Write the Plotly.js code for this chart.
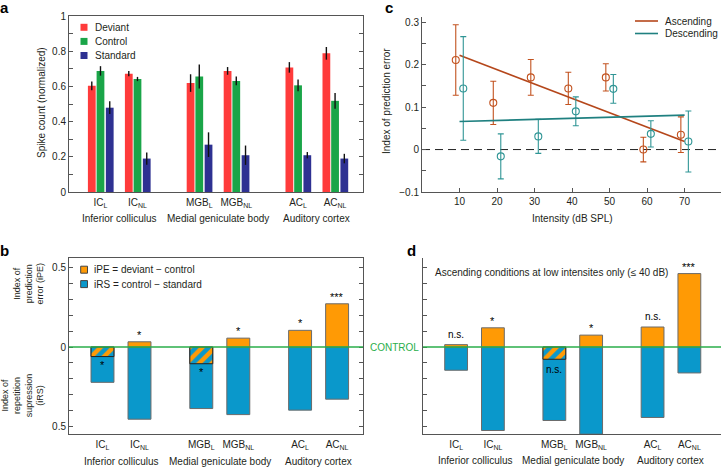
<!DOCTYPE html>
<html><head><meta charset="utf-8">
<script src="https://cdn.plot.ly/plotly-3.0.1.min.js"></script>
<style>html,body{margin:0;padding:0;background:#fff}#chart{width:721px;height:467px}</style>
</head><body><div id="chart"></div>
<script>
// ---------------- data ----------------
const categories = ['IC<sub>L</sub>', 'IC<sub>NL</sub>', 'MGB<sub>L</sub>', 'MGB<sub>NL</sub>', 'AC<sub>L</sub>', 'AC<sub>NL</sub>'];
const regions = ['Inferior colliculus', 'Medial geniculate body', 'Auditory cortex'];
const regionOfCategory = [0, 0, 1, 1, 2, 2];

// panel a
const legendA = ['Deviant', 'Control', 'Standard'];
const deviant = [0.603, 0.672, 0.619, 0.688, 0.708, 0.788];
const deviantErr = [0.025, 0.015, 0.05, 0.022, 0.03, 0.036];
const control = [0.688, 0.642, 0.656, 0.631, 0.606, 0.518];
const controlErr = [0.027, 0.012, 0.068, 0.025, 0.033, 0.045];
const standard = [0.479, 0.19, 0.269, 0.209, 0.209, 0.19];
const standardErr = [0.036, 0.035, 0.07, 0.055, 0.018, 0.027];

// panel b
const legendB = ['iPE = deviant \u2212 control', 'iRS = control \u2212 standard'];
const iPEb = [-0.06, 0.033, -0.105, 0.056, 0.105, 0.272];
const iRSb = [0.222, 0.454, 0.387, 0.425, 0.397, 0.328];
const sigB = ['*', '*', '*', '*', '*', '***'];

// panel c
const legendC = ['Ascending', 'Descending'];
const intensities = [10, 20, 30, 40, 50, 60, 70];
const ascY = [0.211, 0.110, 0.170, 0.144, 0.170, 0.0, 0.035];
const ascErr = [0.083, 0.051, 0.042, 0.038, 0.032, 0.029, 0.042];
const descY = [0.144, -0.016, 0.031, 0.090, 0.143, 0.037, 0.019];
const descErr = [0.122, 0.053, 0.04, 0.034, 0.034, 0.031, 0.072];
const fitX = [10, 70];
const fitAsc = [0.222, 0.019];
const fitDesc = [0.066, 0.081];

// panel d
const panelDNote = 'Ascending conditions at low intensites only (\u2264 40 dB)';
const iPEd = [0.015, 0.121, -0.077, 0.075, 0.126, 0.462];
const iRSd = [0.146, 0.525, 0.462, 0.548, 0.443, 0.163];
const sigD = ['n.s.', '*', 'n.s.', '*', 'n.s.', '***'];

// ---------------- layout helpers ----------------
const W = 721, H = 467;
const px = v => v / W;
const py = v => 1 - v / H;
const FONT = 'Liberation Sans, Arial, Helvetica, sans-serif';
const TXT = '#231f20';
const AX = '#555';
const COL = {
  red: '#ff3b3b', green: '#1aa548', navy: '#2e3192',
  orange: '#ff9a05', blue: '#0a98cb',
  asc: '#c2521f', desc: '#2f9595', ctrl: '#2aae4a'
};
const regionGap = 2.67;
const memberIndex = categories.map((c, i) => i - regionOfCategory.indexOf(regionOfCategory[i]));
const xPos = categories.map((c, i) => regionOfCategory[i] * regionGap + memberIndex[i]);
const regionCenter = regions.map((r, g) => {
  const xs = xPos.filter((v, i) => regionOfCategory[i] === g);
  return (Math.min(...xs) + Math.max(...xs)) / 2;
});
const jitter = 1;

const traces = [];
// ---- panel a bars ----
const seriesA = [[deviant, deviantErr, COL.red, -0.34], [control, controlErr, COL.green, -0.105], [standard, standardErr, COL.navy, 0.145]];
seriesA.forEach(([vals, errs, color, off], k) => {
  traces.push({
    type: 'bar', x: xPos, y: vals, xaxis: 'x', yaxis: 'y', name: legendA[k],
    width: 0.21, offset: off, marker: {color: color},
    error_y: {type: 'data', array: errs, color: '#111', thickness: 1.4, width: 0},
    showlegend: false, hoverinfo: 'skip'
  });
});

// ---- panels b & d ----
function indexTraces(iPE, iRS, xa, ya) {
  traces.push({type: 'bar', x: xPos, y: iRS.map(v => -v), xaxis: xa, yaxis: ya, width: 0.62,
    marker: {color: COL.blue, line: {color: '#6b6b6b', width: 1}}, showlegend: false, name: 'iRS'});
  traces.push({type: 'bar', x: xPos, y: iPE.map(v => v > 0 ? v : null), xaxis: xa, yaxis: ya, width: 0.62,
    marker: {color: COL.orange, line: {color: '#6b6b6b', width: 1}}, showlegend: false, name: 'iPE'});
  traces.push({type: 'bar', x: xPos, y: iPE.map(v => v < 0 ? v : null), xaxis: xa, yaxis: ya, width: 0.62,
    marker: {color: COL.orange, line: {color: '#222', width: 1},
      pattern: {shape: '/', fgcolor: COL.blue, bgcolor: COL.orange, size: 9, solidity: 0.5, fillmode: 'replace'}},
    showlegend: false, name: 'iPE (negative)'});
}
indexTraces(iPEb, iRSb, 'x2', 'y2');
indexTraces(iPEd, iRSd, 'x4', 'y4');

// ---- panel c ----
[[ascY, ascErr, COL.asc, -jitter, fitAsc, '#b5471b'], [descY, descErr, COL.desc, jitter, fitDesc, '#1f8080']].forEach(([ys, es, color, dj, fit, lc], k) => {
  traces.push({type: 'scatter', mode: 'markers', x: intensities.map(v => v + dj), y: ys, xaxis: 'x3', yaxis: 'y3',
    marker: {symbol: 'circle-open', size: 7, color: color, line: {width: 1.1, color: color}},
    error_y: {type: 'data', array: es, color: color, thickness: 1.1, width: 3},
    showlegend: false, name: legendC[k]});
  traces.push({type: 'scatter', mode: 'lines', x: fitX, y: fit, xaxis: 'x3', yaxis: 'y3',
    line: {color: lc, width: 1.6}, showlegend: false, name: legendC[k] + ' fit'});
});

// ---------------- axes ----------------
const tickFont = {family: FONT, size: 10, color: TXT};
const step = (a, b, s) => { const out = []; for (let v = a; v <= b + 1e-9; v += s) out.push(+v.toFixed(3)); return out; };
const yB = step(-0.5, 0.5, 0.1);
const minorTicks = d => ({tickmode: 'linear', tick0: 0, dtick: d, ticks: 'inside', ticklen: 4, tickcolor: AX, showgrid: false});

const catAxis = (dom, rng, anchor, mirror) => ({
  domain: dom, range: rng, anchor: anchor, tickmode: 'array', tickvals: xPos, ticktext: categories,
  showline: true, linecolor: AX, linewidth: 1, mirror: mirror, ticks: '', showgrid: false, zeroline: false,
  tickfont: tickFont, ticklabelstandoff: 1
});

const layout = {
  width: W, height: H, margin: {l: 0, r: 0, t: 0, b: 0},
  paper_bgcolor: '#fff', plot_bgcolor: 'rgba(0,0,0,0)',
  barmode: 'overlay', showlegend: false,
  font: {family: FONT, size: 10, color: TXT},
  xaxis: catAxis([px(69), px(363)], [-0.851, 7.095], 'y', true),
  yaxis: {domain: [py(192), py(16)], range: [0, 1], anchor: 'x', tickmode: 'linear', tick0: 0, dtick: 0.2,
    minor: minorTicks(0.1),
    ticks: 'inside', ticklen: 4, tickcolor: AX, showline: true, linecolor: AX, mirror: 'ticks', showgrid: false, zeroline: false, tickfont: tickFont},
  xaxis2: catAxis([px(69), px(363)], [-0.905, 7.04], 'y2', true),
  yaxis2: {domain: [py(434), py(258)], range: [-0.547, 0.56], anchor: 'x2', tickmode: 'array', tickvals: [-0.5, 0, 0.5], ticktext: ['0.5', '0', '0.5'],
    minor: minorTicks(0.1),
    ticks: 'inside', ticklen: 4, tickcolor: AX, showline: true, linecolor: AX, mirror: 'ticks', showgrid: false, zeroline: false, tickfont: tickFont},
  xaxis3: {domain: [px(422), 1], range: [0, 79.7], anchor: 'y3', tickmode: 'array', tickvals: intensities, ticktext: intensities.map(String),
    ticks: 'inside', ticklen: 4, tickcolor: AX, showline: true, linecolor: AX, showgrid: false, zeroline: false, tickfont: tickFont},
  yaxis3: {domain: [py(192), py(16.7)], range: [-0.1, 0.313], anchor: 'x3', tickmode: 'linear', tick0: 0, dtick: 0.1,
    minor: minorTicks(0.05),
    ticks: 'inside', ticklen: 4, tickcolor: AX, showline: true, linecolor: AX, showgrid: false, zeroline: false, tickfont: tickFont},
  xaxis4: catAxis([px(423), 1], [-0.9, 7.2], 'y4', false),
  yaxis4: {domain: [py(434), py(258)], range: [-0.547, 0.56], anchor: 'x4', tickmode: 'array', tickvals: yB, showticklabels: false,
    ticks: 'inside', ticklen: 4, tickcolor: AX, showline: true, linecolor: AX, showgrid: false, zeroline: false},
  shapes: [],
  annotations: []
};

const S = layout.shapes, A = layout.annotations;
// control lines & dashed zero
S.push({type: 'line', xref: 'x2 domain', x0: 0, x1: 1, yref: 'y2', y0: 0, y1: 0, line: {color: COL.ctrl, width: 1.6}});
S.push({type: 'line', xref: 'x4 domain', x0: 0, x1: 1, yref: 'y4', y0: 0, y1: 0, line: {color: COL.ctrl, width: 1.6}});
S.push({type: 'line', xref: 'x3 domain', x0: 0, x1: 1, yref: 'y3', y0: 0, y1: 0, line: {color: '#222', width: 1, dash: '8px,5px'}, layer: 'below'});

function text(t, xpx, ypx, opts) {
  A.push(Object.assign({text: t, xref: 'paper', yref: 'paper', x: px(xpx), y: py(ypx), showarrow: false,
    font: {family: FONT, size: 10, color: TXT}, xanchor: 'center', yanchor: 'middle'}, opts || {}));
}

// legend a
[COL.red, COL.green, COL.navy].forEach((c, k) => {
  const yc = 27.3 + k * 14.1;
  S.push({type: 'rect', xref: 'paper', yref: 'paper', x0: px(80.5), x1: px(87.5), y0: py(yc + 3.5), y1: py(yc - 3.5), fillcolor: c, line: {width: 0}});
  text(legendA[k], 92.5, yc, {xanchor: 'left'});
});
// legend b
[COL.orange, COL.blue].forEach((c, k) => {
  const yc = 269.7 + k * 14.4;
  S.push({type: 'rect', xref: 'paper', yref: 'paper', x0: px(80.7), x1: px(87.5), y0: py(yc + 3.5), y1: py(yc - 3.5), fillcolor: c, line: {width: 1, color: '#444'}});
  text(legendB[k], 92, yc, {xanchor: 'left'});
});
// legend c
['#b5471b', '#1f8080'].forEach((c, k) => {
  const yc = 21 + k * 12.5;
  S.push({type: 'line', xref: 'paper', yref: 'paper', x0: px(635), x1: px(658), y0: py(yc), y1: py(yc), line: {color: c, width: 1.6}});
  text(legendC[k], 662.5, yc, {xanchor: 'left'});
});

// region labels
regions.forEach((r, g) => {
  A.push({text: r, xref: 'x', yref: 'paper', x: regionCenter[g], y: py(218), showarrow: false, font: {family: FONT, size: 10, color: TXT}, yanchor: 'middle'});
  A.push({text: r, xref: 'x2', yref: 'paper', x: regionCenter[g], y: py(461), showarrow: false, font: {family: FONT, size: 10, color: TXT}, yanchor: 'middle'});
  A.push({text: r, xref: 'x4', yref: 'paper', x: regionCenter[g], y: py(460), showarrow: false, font: {family: FONT, size: 10, color: TXT}, yanchor: 'middle'});
});

// significance marks
function sigMarks(iPE, sig, xa, ya) {
  iPE.forEach((v, i) => {
    const ns = sig[i] !== '*' && sig[i] !== '***';
    const above = v >= 0;
    A.push({text: sig[i], xref: xa, yref: ya, x: xPos[i], y: v, showarrow: false,
      font: {family: FONT, size: ns ? 10 : 11, color: '#000'},
      yanchor: above ? 'bottom' : 'top', yshift: above ? (ns ? 3 : -1) : (ns ? -3 : 0)});
  });
}
sigMarks(iPEb, sigB, 'x2', 'y2');
sigMarks(iPEd, sigD, 'x4', 'y4');

// axis titles
text('Spike count (normalized)', 41, 103, {textangle: -90});
text('Index of<br>prediction<br>error (iPE)', 28.3, 283.3, {textangle: -90, font: {family: FONT, size: 9, color: TXT}});
text('Index of<br>repetition<br>supression<br>(iRS)', 22.3, 395, {textangle: -90, font: {family: FONT, size: 9, color: TXT}});
text('Index of prediction error', 387, 101, {textangle: -90});
text('Intensity (dB SPL)', 572.5, 218);
text(panelDNote, 433, 272.7, {xanchor: 'left'});
text('CONTROL', 394, 347, {font: {family: FONT, size: 10, color: COL.ctrl}});

// panel letters
const bold = {family: FONT, size: 15, color: '#000', weight: 'bold'};
text('<b>a</b>', 4.5, 7, {font: bold});
text('<b>b</b>', 4.5, 250, {font: bold});
text('<b>c</b>', 388.5, 7, {font: bold});
text('<b>d</b>', 411, 250, {font: bold});

Plotly.newPlot('chart', traces, layout, {staticPlot: true, displayModeBar: false});
</script>
</body></html>
